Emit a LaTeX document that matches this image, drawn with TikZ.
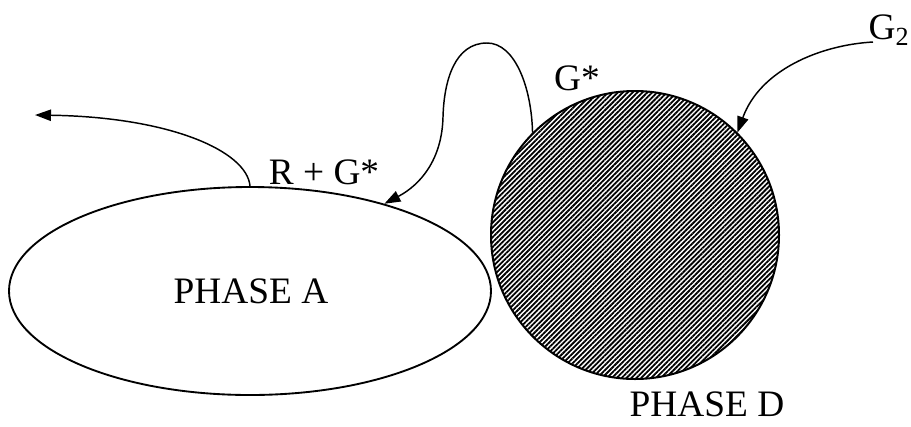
\documentclass[tikz,border=0pt]{standalone}
\usepackage{fontspec}
\setmainfont{Liberation Serif}
\usetikzlibrary{shapes.geometric,arrows.meta,patterns.meta}
\begin{document}
\begin{tikzpicture}[x=0.75pt,y=-0.75pt,
  lbl/.style={font=\fontsize{28}{33}\selectfont, inner sep=0pt},
  conn/.style={line width=1.1pt, -{Triangle[length=12pt,width=8.5pt]}},
  ]
\useasboundingbox (0,0) rectangle (911,426);
\node[ellipse, draw, line width=1.4pt, minimum width=361.5pt, minimum height=156pt, inner sep=0pt] (A) at (250,291) {};
\node[circle, draw, line width=1.5pt, minimum size=216pt, inner sep=0pt,
  pattern={Lines[angle=45,distance=2.6pt,line width=1.35pt]}] (D) at (635,235) {};
\node[lbl] (phA) at (251,291) {PHASE A};
\node[lbl] (phD) at (707,404) {PHASE D};
\node[lbl] (rg) at (324,172) {R + G*};
\node[lbl] (gs) at (577,78) {G*};
\node[lbl] (g2) at (889,30) {G\textsubscript{2}};
\coordinate (out) at (35,115);
\coordinate (g2s) at (873,42);
\draw[conn] (A.90) .. controls +(-3,-35) and (170,117) .. (out);
\draw[conn] (D.135) .. controls +(-1,-45) and (515,43) .. (487,43)
  .. controls (455,43) and (444,80) .. (443,117)
  .. controls (442,160) and (420,185) .. (A.33);
\draw[conn] (g2s) .. controls (820,45) and (760,70) .. (D.45);
\end{tikzpicture}
\end{document}
